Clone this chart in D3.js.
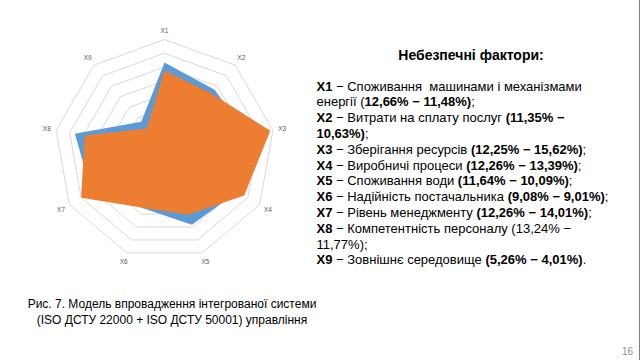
<!DOCTYPE html>
<html><head><meta charset="utf-8">
<script src="https://cdn.jsdelivr.net/npm/d3@7"></script>
<style>html,body{margin:0;padding:0;background:#fff;}svg{display:block;}</style>
</head><body>
<svg id="c" width="640" height="360"></svg>
<script>
const categories = ["X1","X2","X3","X4","X5","X6","X7","X8","X9"];
const seriesBlue = [12.66, 11.35, 12.25, 12.26, 11.64, 9.08, 12.26, 13.24, 5.26];
const seriesOrange = [11.48, 10.63, 15.62, 13.39, 10.09, 9.01, 14.01, 11.77, 4.01];
const ringTicks = [2, 4, 6, 8, 10, 12, 14, 16];
const titleText = "Небезпечні фактори:";
const legendLines = [
  [["X1", true], [" − Споживання  машинами і механізмами", false]],
  [["енергії (", false], ["12,66% − 11,48%)", true], [";", false]],
  [["X2", true], [" − Витрати на сплату послуг ", false], ["(11,35% −", true]],
  [["10,63%)", true], [";", false]],
  [["X3", true], [" − Зберігання ресурсів ", false], ["(12,25% − 15,62%)", true], [";", false]],
  [["X4", true], [" − Виробничі процеси ", false], ["(12,26% − 13,39%)", true], [";", false]],
  [["X5", true], [" − Споживання води ", false], ["(11,64% − 10,09%)", true], [";", false]],
  [["X6", true], [" − Надійність постачальника ", false], ["(9,08% − 9,01%)", true], [";", false]],
  [["X7", true], [" − Рівень менеджменту ", false], ["(12,26% − 14,01%)", true], [";", false]],
  [["X8", true], [" − Компетентність персоналу (13,24% −", false]],
  [["11,77%);", false]],
  [["X9", true], [" − Зовнішнє середовище ", false], ["(5,26% − 4,01%)", true], [".", false]]
];
const captionLines = ["Рис. 7. Модель впровадження інтегрованої системи", "(ISO ДСТУ 22000 + ISO ДСТУ 50001) управління"];
const pageNumber = "16";

const svg = d3.select("#c");
const cx = 164.5, cy = 149.5, R = 110;
const rScale = d3.scaleLinear().domain([0, 16]).range([0, R]);
const angle = d3.scaleLinear().domain([0, categories.length]).range([0, 2 * Math.PI]);
const g = svg.append("g").attr("transform", `translate(${cx},${cy})`);

const pt = (i, v) => {
  const a = angle(i);
  return [rScale(v) * Math.sin(a), -rScale(v) * Math.cos(a)];
};

// rings
ringTicks.forEach(t => {
  g.append("polygon")
    .attr("points", categories.map((c, i) => pt(i, t).join(",")).join(" "))
    .attr("fill", "none").attr("stroke", "#d9d9d9").attr("stroke-width", 1);
});

const line = d3.lineRadial().angle((d, i) => angle(i)).radius(d => rScale(d)).curve(d3.curveLinearClosed);
g.append("path").attr("d", line(seriesBlue)).attr("fill", "#5B9BD5");
g.append("path").attr("d", line(seriesOrange)).attr("fill", "#ED7D31");

// category labels
categories.forEach((c, i) => {
  const [x, y] = pt(i, 16);
  const a = angle(i);
  const off = 9.5;
  g.append("text")
    .attr("x", x + off * Math.sin(a)).attr("y", y - off * Math.cos(a))
    .attr("text-anchor", "middle").attr("dominant-baseline", "central")
    .attr("font-family", "Liberation Sans, Arial, sans-serif").attr("font-size", 6.5)
    .attr("fill", "#595959").text(c);
});

// title
svg.append("text").attr("x", 471).attr("y", 59.5).attr("text-anchor", "middle")
  .attr("font-family", "Liberation Sans, Arial, sans-serif").attr("font-size", 14).attr("font-weight", "bold")
  .attr("fill", "#000").text(titleText);

// legend text
const lt = svg.append("g").attr("font-family", "Liberation Sans, Arial, sans-serif").attr("font-size", 13).attr("fill", "#000");
legendLines.forEach((segs, k) => {
  const t = lt.append("text").attr("x", 316.5).attr("y", 90.5 + k * 15.8);
  segs.forEach(([s, b]) => {
    t.append("tspan").attr("font-weight", b ? "bold" : "normal").attr("xml:space", "preserve").style("white-space", "pre").text(s);
  });
});

// caption
captionLines.forEach((s, k) => {
  svg.append("text").attr("x", 172).attr("y", 308 + k * 16).attr("text-anchor", "middle")
    .attr("font-family", "Liberation Sans, Arial, sans-serif").attr("font-size", 12).attr("fill", "#000").text(s);
});

svg.append("text").attr("x", 633).attr("y", 354.5).attr("text-anchor", "end")
  .attr("font-family", "Liberation Sans, Arial, sans-serif").attr("font-size", 10).attr("fill", "#8c8c8c").text(pageNumber);

svg.append("line").attr("x1", 639.5).attr("x2", 639.5).attr("y1", 0).attr("y2", 360).attr("stroke", "#7f7f7f").attr("stroke-width", 1);
</script>
</body></html>
